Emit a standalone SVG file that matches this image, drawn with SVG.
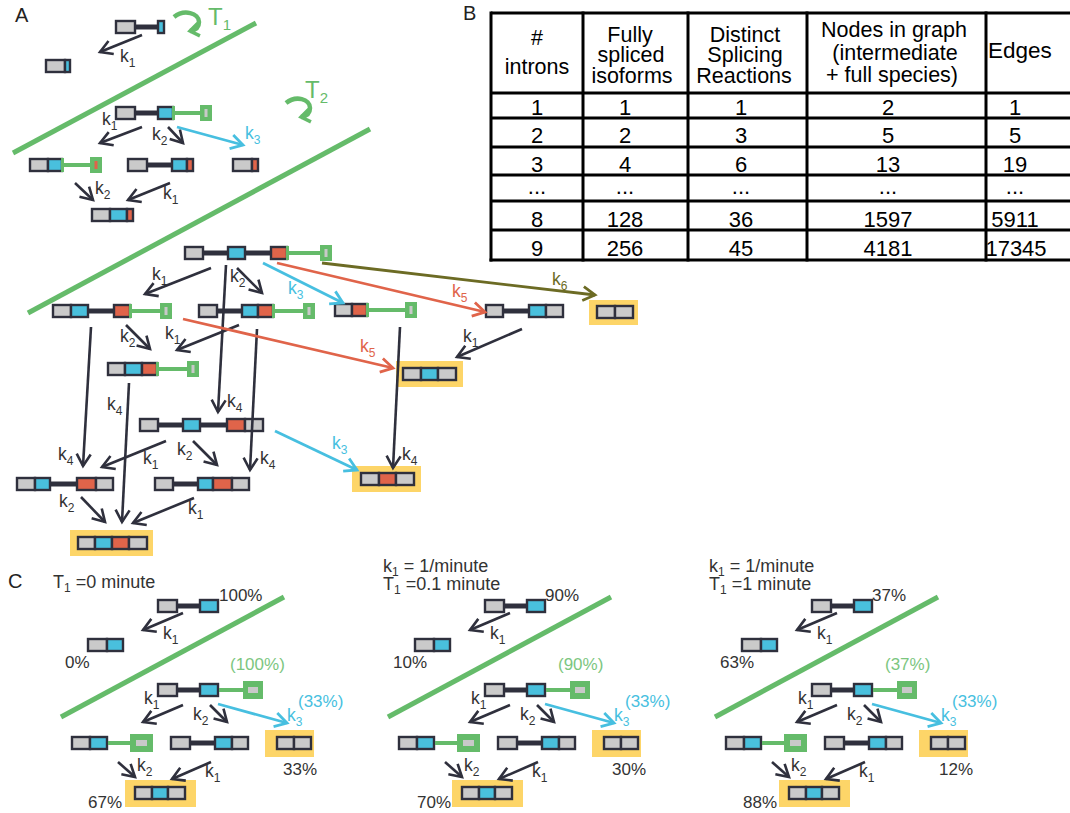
<svg xmlns="http://www.w3.org/2000/svg" width="1070" height="813" viewBox="0 0 1070 813">
<style>
text{font-family:"Liberation Sans",Arial,sans-serif}
.g{fill:#cacaca;stroke:#2f303d;stroke-width:2.4}
.b{fill:#49c0dd;stroke:#2f303d;stroke-width:2.4}
.o{fill:#e0644a;stroke:#2f303d;stroke-width:2.4}
.in{stroke:#2f303d;stroke-width:5}
.gl{stroke:#65bb6a;stroke-width:4}
.gs{fill:#65bb6a}
.gm{fill:#c9c9c9}
.om{fill:#e0644a}
.hl{fill:#fdd568}
.cd{fill:none;stroke:#2f303d;stroke-width:2.6;marker-end:url(#mD)}
.cb{fill:none;stroke:#47bfe0;stroke-width:2.8;marker-end:url(#mB)}
.co{fill:none;stroke:#e0644a;stroke-width:2.8;marker-end:url(#mO)}
.cv{fill:none;stroke:#6c6b24;stroke-width:2.8;marker-end:url(#mV)}
.cg{fill:none;stroke:#65bb6a;stroke-width:4.5;marker-end:url(#mG)}
.bd{stroke:#65bb6a;stroke-width:5}
.k{font-size:17.5px;fill:#333}
.s{font-size:12px}
.pc{font-size:17px;fill:#333}
.kb{fill:#47bfe0}
.ko{fill:#e0644a}
.kv{fill:#6c6b24}
.pg{fill:#7cc67f}
.tg{font-size:24px;fill:#65bb6a}
.tb{stroke:#000;stroke-width:3}
.th{font-size:22px;fill:#000;text-anchor:middle}
.hh{font-size:21.5px;fill:#000;text-anchor:middle}
.pl{font-size:20px;fill:#222}
.hd{font-size:18px;fill:#333}
</style>
<defs>
<marker id="mD" markerUnits="userSpaceOnUse" markerWidth="22" markerHeight="22" viewBox="-16 -11 22 22" refX="0" refY="0" orient="auto"><path d="M-12,-7 L0,0 L-12,7" fill="none" stroke="#2f303d" stroke-width="2.6"/></marker>
<marker id="mB" markerUnits="userSpaceOnUse" markerWidth="22" markerHeight="22" viewBox="-16 -11 22 22" refX="0" refY="0" orient="auto"><path d="M-12,-7 L0,0 L-12,7" fill="none" stroke="#47bfe0" stroke-width="2.8"/></marker>
<marker id="mO" markerUnits="userSpaceOnUse" markerWidth="22" markerHeight="22" viewBox="-16 -11 22 22" refX="0" refY="0" orient="auto"><path d="M-12,-7 L0,0 L-12,7" fill="none" stroke="#e0644a" stroke-width="2.8"/></marker>
<marker id="mV" markerUnits="userSpaceOnUse" markerWidth="22" markerHeight="22" viewBox="-16 -11 22 22" refX="0" refY="0" orient="auto"><path d="M-12,-7 L0,0 L-12,7" fill="none" stroke="#6c6b24" stroke-width="2.8"/></marker>
<marker id="mG" markerUnits="userSpaceOnUse" markerWidth="20" markerHeight="20" viewBox="-15 -10 20 20" refX="0" refY="0" orient="auto"><path d="M-9,-6.5 L0,0 L-9,6.5" fill="none" stroke="#65bb6a" stroke-width="3.5"/></marker>
</defs>

<!-- panel letters -->
<text class="pl" x="15" y="22">A</text>
<text class="pl" x="463" y="20">B</text>
<text class="pl" x="8" y="588">C</text>

<!-- ===== Panel A: splicing graph ===== -->
<g id="boundaries">
<line class="bd" x1="13" y1="153" x2="256" y2="23"/>
<line class="bd" x1="28" y1="313" x2="370" y2="129"/>
<path class="cg" d="M174,17 C184,9 199,13 199,22 C199,27 196,30 190,31"/>
<text class="tg" x="208" y="25">T<tspan font-size="15" dy="5">1</tspan></text>
<path class="cg" d="M286,103 C296,95 310,99 310,108 C310,113 307,116 301,117"/>
<text class="tg" x="305" y="98">T<tspan font-size="15" dy="5">2</tspan></text>
</g>

<g id="n1"><line class="in" x1="135" y1="27" x2="158" y2="27"/><rect class="g" x="116" y="21" width="19" height="12"/><rect class="b" x="158" y="21" width="6" height="12"/></g>
<g id="n2"><rect class="g" x="46" y="60" width="19" height="12"/><rect class="b" x="65" y="60" width="5" height="12"/></g>
<g id="n3"><line class="in" x1="135" y1="113" x2="158" y2="113"/><rect class="g" x="116" y="107" width="19" height="12"/><rect class="b" x="158" y="107" width="15" height="12"/><line class="gl" x1="173" y1="113" x2="200" y2="113"/><rect class="gs" x="172" y="106" width="3" height="14"/><rect class="gs" x="200" y="105" width="12" height="16"/><rect class="gm" x="204.5" y="109" width="3" height="8"/></g>
<g id="n4"><rect class="g" x="30" y="159" width="18" height="12"/><rect class="b" x="48" y="159" width="14" height="12"/><line class="gl" x1="62" y1="165" x2="90" y2="165"/><rect class="gs" x="61" y="158" width="3" height="14"/><rect class="gs" x="90" y="157" width="12" height="16"/><rect class="om" x="94.5" y="161" width="3" height="8"/></g>
<g id="n5"><line class="in" x1="147" y1="165" x2="172" y2="165"/><rect class="g" x="128" y="159" width="19" height="12"/><rect class="b" x="172" y="159" width="15" height="12"/><rect class="o" x="187" y="159" width="6" height="12"/></g>
<g id="n6"><rect class="g" x="233" y="159" width="19" height="12"/><rect class="o" x="252" y="159" width="6" height="12"/></g>
<g id="n7"><rect class="g" x="92" y="209" width="18" height="12"/><rect class="b" x="110" y="209" width="17" height="12"/><rect class="o" x="127" y="209" width="6" height="12"/></g>

<g id="n8"><line class="in" x1="203" y1="253" x2="271" y2="253"/><rect class="g" x="185" y="247" width="18" height="12"/><rect class="b" x="228" y="247" width="17" height="12"/><rect class="o" x="271" y="247" width="16" height="12"/><line class="gl" x1="287" y1="253" x2="320" y2="253"/><rect class="gs" x="286" y="246" width="3" height="14"/><rect class="gs" x="320" y="245" width="12" height="16"/><rect class="gm" x="324.5" y="249" width="3" height="8"/></g>
<g id="n9"><line class="in" x1="88" y1="311" x2="114" y2="311"/><rect class="g" x="53" y="305" width="18" height="12"/><rect class="b" x="71" y="305" width="17" height="12"/><rect class="o" x="114" y="305" width="16" height="12"/><line class="gl" x1="130" y1="311" x2="160" y2="311"/><rect class="gs" x="129" y="304" width="3" height="14"/><rect class="gs" x="160" y="303" width="12" height="16"/><rect class="gm" x="164.5" y="307" width="3" height="8"/></g>
<g id="n10"><line class="in" x1="217" y1="311" x2="242" y2="311"/><rect class="g" x="199" y="305" width="18" height="12"/><rect class="b" x="242" y="305" width="16" height="12"/><rect class="o" x="258" y="305" width="15" height="12"/><line class="gl" x1="273" y1="311" x2="303" y2="311"/><rect class="gs" x="272" y="304" width="3" height="14"/><rect class="gs" x="303" y="303" width="12" height="16"/><rect class="gm" x="307.5" y="307" width="3" height="8"/></g>
<g id="n11"><rect class="g" x="108" y="363" width="17" height="12"/><rect class="b" x="125" y="363" width="17" height="12"/><rect class="o" x="142" y="363" width="15" height="12"/><line class="gl" x1="157" y1="369" x2="187" y2="369"/><rect class="gs" x="156" y="362" width="3" height="14"/><rect class="gs" x="187" y="361" width="12" height="16"/><rect class="gm" x="191.5" y="365" width="3" height="8"/></g>
<g id="n12"><rect class="g" x="335" y="304" width="17" height="12"/><rect class="o" x="352" y="304" width="15" height="12"/><line class="gl" x1="367" y1="310" x2="405" y2="310"/><rect class="gs" x="366" y="303" width="3" height="14"/><rect class="gs" x="405" y="302" width="12" height="16"/><rect class="gm" x="409.5" y="306" width="3" height="8"/></g>
<g id="n13"><line class="in" x1="503" y1="311" x2="529" y2="311"/><rect class="g" x="486" y="305" width="17" height="12"/><rect class="b" x="529" y="305" width="17" height="12"/><rect class="g" x="546" y="305" width="17" height="12"/></g>
<g id="n14"><rect class="hl" x="589" y="300" width="49" height="25"/><rect class="g" x="597" y="306" width="18" height="12"/><rect class="g" x="615" y="306" width="18" height="12"/></g>
<g id="n15"><rect class="hl" x="396" y="361" width="67" height="26"/><rect class="g" x="403" y="368" width="18" height="12"/><rect class="b" x="421" y="368" width="17" height="12"/><rect class="g" x="438" y="368" width="18" height="12"/></g>
<g id="n16"><line class="in" x1="158" y1="425" x2="227" y2="425"/><rect class="g" x="140" y="419" width="18" height="12"/><rect class="b" x="183" y="419" width="17" height="12"/><rect class="o" x="227" y="419" width="18" height="12"/><rect class="g" x="245" y="419" width="18" height="12"/></g>
<g id="n17"><line class="in" x1="50" y1="484" x2="77" y2="484"/><rect class="g" x="17" y="478" width="18" height="12"/><rect class="b" x="35" y="478" width="15" height="12"/><rect class="o" x="77" y="478" width="19" height="12"/><rect class="g" x="96" y="478" width="17" height="12"/></g>
<g id="n18"><line class="in" x1="173" y1="484" x2="198" y2="484"/><rect class="g" x="155" y="478" width="18" height="12"/><rect class="b" x="198" y="478" width="15" height="12"/><rect class="o" x="213" y="478" width="19" height="12"/><rect class="g" x="232" y="478" width="17" height="12"/></g>
<g id="n19"><rect class="hl" x="352" y="466" width="69" height="26"/><rect class="g" x="361" y="473" width="18" height="12"/><rect class="o" x="379" y="473" width="17" height="12"/><rect class="g" x="396" y="473" width="18" height="12"/></g>
<g id="n20"><rect class="hl" x="70" y="530" width="83" height="26"/><rect class="g" x="78" y="537" width="17" height="12"/><rect class="b" x="95" y="537" width="17" height="12"/><rect class="o" x="112" y="537" width="17" height="12"/><rect class="g" x="129" y="537" width="18" height="12"/></g>

<g id="connectors">
<line class="cd" x1="142" y1="35" x2="100" y2="52"/>
<line class="cd" x1="142" y1="127" x2="100" y2="143"/>
<line class="cd" x1="168" y1="127" x2="183" y2="143"/>
<line class="cb" x1="177" y1="127" x2="243" y2="145"/>
<line class="cd" x1="75" y1="183" x2="93" y2="200"/>
<line class="cd" x1="170" y1="183" x2="128" y2="200"/>
<line class="cd" x1="211" y1="268" x2="145" y2="294"/>
<line class="cd" x1="237" y1="268" x2="262" y2="293"/>
<line class="cb" x1="263" y1="263" x2="343" y2="303"/>
<line class="co" x1="277" y1="263" x2="485" y2="312"/>
<line class="cv" x1="322" y1="263" x2="595" y2="295"/>
<line class="cd" x1="226" y1="265" x2="218" y2="412"/>
<line class="cd" x1="257" y1="329" x2="250" y2="470"/>
<line class="cd" x1="91" y1="327" x2="83" y2="466"/>
<line class="cd" x1="129" y1="383" x2="122" y2="522"/>
<line class="cd" x1="126" y1="325" x2="150" y2="349"/>
<line class="cd" x1="239" y1="325" x2="177" y2="350"/>
<line class="co" x1="183" y1="319" x2="393" y2="368"/>
<line class="cd" x1="522" y1="329" x2="457" y2="357"/>
<line class="cd" x1="400" y1="327" x2="393" y2="468"/>
<line class="cb" x1="275" y1="431" x2="357" y2="470"/>
<line class="cd" x1="166" y1="441" x2="102" y2="467"/>
<line class="cd" x1="193" y1="441" x2="217" y2="465"/>
<line class="cd" x1="81" y1="497" x2="105" y2="522"/>
<line class="cd" x1="194" y1="498" x2="133" y2="523"/>
</g>

<g id="rate-labels">
<text class="k" x="120" y="62">k<tspan class="s" dy="5">1</tspan></text>
<text class="k" x="102" y="125">k<tspan class="s" dy="5">1</tspan></text>
<text class="k" x="152" y="140">k<tspan class="s" dy="5">2</tspan></text>
<text class="k kb" x="245" y="139">k<tspan class="s" dy="5">3</tspan></text>
<text class="k" x="95" y="194">k<tspan class="s" dy="5">2</tspan></text>
<text class="k" x="163" y="199">k<tspan class="s" dy="5">1</tspan></text>
<text class="k" x="152" y="280">k<tspan class="s" dy="5">1</tspan></text>
<text class="k" x="230" y="282">k<tspan class="s" dy="5">2</tspan></text>
<text class="k kb" x="288" y="294">k<tspan class="s" dy="5">3</tspan></text>
<text class="k ko" x="452" y="297">k<tspan class="s" dy="5">5</tspan></text>
<text class="k kv" x="552" y="285">k<tspan class="s" dy="5">6</tspan></text>
<text class="k" x="227" y="407">k<tspan class="s" dy="5">4</tspan></text>
<text class="k" x="260" y="464">k<tspan class="s" dy="5">4</tspan></text>
<text class="k" x="58" y="460">k<tspan class="s" dy="5">4</tspan></text>
<text class="k" x="107" y="410">k<tspan class="s" dy="5">4</tspan></text>
<text class="k" x="120" y="342">k<tspan class="s" dy="5">2</tspan></text>
<text class="k" x="165" y="339">k<tspan class="s" dy="5">1</tspan></text>
<text class="k ko" x="360" y="352">k<tspan class="s" dy="5">5</tspan></text>
<text class="k" x="463" y="342">k<tspan class="s" dy="5">1</tspan></text>
<text class="k" x="402" y="460">k<tspan class="s" dy="5">4</tspan></text>
<text class="k kb" x="332" y="449">k<tspan class="s" dy="5">3</tspan></text>
<text class="k" x="143" y="464">k<tspan class="s" dy="5">1</tspan></text>
<text class="k" x="177" y="455">k<tspan class="s" dy="5">2</tspan></text>
<text class="k" x="59" y="507">k<tspan class="s" dy="5">2</tspan></text>
<text class="k" x="188" y="514">k<tspan class="s" dy="5">1</tspan></text>
</g>

<!-- ===== Panel B: graph size table ===== -->
<g id="table">
<line class="tb" x1="491" y1="13" x2="1070" y2="13"/>
<line class="tb" x1="491" y1="93" x2="1070" y2="93"/>
<line class="tb" x1="491" y1="118" x2="1070" y2="118"/>
<line class="tb" x1="491" y1="147" x2="1070" y2="147"/>
<line class="tb" x1="491" y1="175" x2="1070" y2="175"/>
<line class="tb" x1="491" y1="201" x2="1070" y2="201"/>
<line class="tb" x1="491" y1="230" x2="1070" y2="230"/>
<line class="tb" x1="489.5" y1="260" x2="1070" y2="260"/>
<line class="tb" x1="491" y1="11.5" x2="491" y2="261.5"/>
<line class="tb" x1="583" y1="11.5" x2="583" y2="261.5"/>
<line class="tb" x1="688" y1="11.5" x2="688" y2="261.5"/>
<line class="tb" x1="807" y1="11.5" x2="807" y2="261.5"/>
<line class="tb" x1="986" y1="11.5" x2="986" y2="261.5"/>
<text class="hh" x="537" y="45">#</text>
<text class="hh" x="537" y="74">introns</text>
<text class="hh" x="630" y="42">Fully</text>
<text class="hh" x="631" y="62">spliced</text>
<text class="hh" x="632" y="83">isoforms</text>
<text class="hh" x="745" y="42">Distinct</text>
<text class="hh" x="745" y="62">Splicing</text>
<text class="hh" x="744" y="83">Reactions</text>
<text class="hh" x="894" y="37">Nodes in graph</text>
<text class="hh" x="895" y="60">(intermediate</text>
<text class="hh" x="892" y="82">+ full species)</text>
<text class="hh" x="988" y="58" style="text-anchor:start;font-size:22.5px">Edges</text>
<text class="th" x="537" y="115">1</text><text class="th" x="625" y="115">1</text><text class="th" x="741" y="115">1</text><text class="th" x="888" y="115">2</text><text class="th" x="1015" y="115">1</text>
<text class="th" x="537" y="143">2</text><text class="th" x="625" y="143">2</text><text class="th" x="741" y="143">3</text><text class="th" x="888" y="143">5</text><text class="th" x="1015" y="143">5</text>
<text class="th" x="537" y="172">3</text><text class="th" x="625" y="172">4</text><text class="th" x="741" y="172">6</text><text class="th" x="888" y="172">13</text><text class="th" x="1015" y="172">19</text>
<text class="th" x="537" y="194">...</text><text class="th" x="625" y="194">...</text><text class="th" x="741" y="194">...</text><text class="th" x="888" y="194">...</text><text class="th" x="1015" y="194">...</text>
<text class="th" x="537" y="227">8</text><text class="th" x="625" y="227">128</text><text class="th" x="741" y="227">36</text><text class="th" x="888" y="227">1597</text><text class="th" x="1015" y="227">5911</text>
<text class="th" x="537" y="256">9</text><text class="th" x="625" y="256">256</text><text class="th" x="741" y="256">45</text><text class="th" x="888" y="256">4181</text><text class="th" x="1016" y="256">17345</text>
</g>

<!-- ===== Panel C: time-dependent outcomes ===== -->
<text class="hd" x="53" y="588">T<tspan font-size="12" dy="4">1</tspan><tspan dy="-4"> =0 minute</tspan></text>
<text class="hd" x="383" y="572">k<tspan font-size="12" dy="4">1</tspan><tspan dy="-4"> = 1/minute</tspan></text>
<text class="hd" x="383" y="590">T<tspan font-size="12" dy="4">1</tspan><tspan dy="-4"> =0.1 minute</tspan></text>
<text class="hd" x="709" y="572">k<tspan font-size="12" dy="4">1</tspan><tspan dy="-4"> = 1/minute</tspan></text>
<text class="hd" x="709" y="590">T<tspan font-size="12" dy="4">1</tspan><tspan dy="-4"> =1 minute</tspan></text>

<g id="panel-c1">
<line class="bd" x1="61" y1="717" x2="284" y2="597"/>
<g id="c1-n1"><line class="in" x1="177" y1="606" x2="200" y2="606"/><rect class="g" x="158" y="600" width="19" height="12"/><rect class="b" x="200" y="600" width="18" height="12"/></g>
<g id="c1-n2"><rect class="g" x="88" y="639" width="19" height="12"/><rect class="b" x="107" y="639" width="16" height="12"/></g>
<g id="c1-n3"><line class="in" x1="177" y1="690" x2="200" y2="690"/><rect class="g" x="158" y="684" width="19" height="12"/><rect class="b" x="200" y="684" width="18" height="12"/><line class="gl" x1="219" y1="690" x2="243" y2="690"/><rect class="gs" x="243" y="681" width="20" height="18"/><rect class="gm" x="248" y="687" width="10" height="6"/></g>
<g id="c1-n4"><rect class="g" x="72" y="737" width="18" height="12"/><rect class="b" x="90" y="737" width="17" height="12"/><line class="gl" x1="108" y1="743" x2="130" y2="743"/><rect class="gs" x="130" y="734" width="23" height="18"/><rect class="gm" x="136" y="740" width="11" height="6"/></g>
<g id="c1-n5"><line class="in" x1="190" y1="743" x2="215" y2="743"/><rect class="g" x="171" y="737" width="19" height="12"/><rect class="b" x="215" y="737" width="17" height="12"/><rect class="g" x="232" y="737" width="16" height="12"/></g>
<g id="c1-n6"><rect class="hl" x="265" y="730" width="49" height="27"/><rect class="g" x="277" y="737" width="17" height="12"/><rect class="g" x="294" y="737" width="17" height="12"/></g>
<g id="c1-n7"><rect class="hl" x="125" y="780" width="71" height="27"/><rect class="g" x="135" y="787" width="17" height="12"/><rect class="b" x="152" y="787" width="16" height="12"/><rect class="g" x="168" y="787" width="17" height="12"/></g>
<g id="c1-connectors">
<line class="cd" x1="183" y1="613" x2="143" y2="630"/>
<line class="cd" x1="183" y1="705" x2="143" y2="722"/>
<line class="cd" x1="210" y1="705" x2="227" y2="722"/>
<line class="cb" x1="218" y1="704" x2="287" y2="723"/>
<line class="cd" x1="118" y1="762" x2="135" y2="777"/>
<line class="cd" x1="211" y1="762" x2="172" y2="779"/>
</g>
<text class="k" x="163" y="639">k<tspan class="s" dy="5">1</tspan></text>
<text class="k" x="144" y="704">k<tspan class="s" dy="5">1</tspan></text>
<text class="k" x="193" y="720">k<tspan class="s" dy="5">2</tspan></text>
<text class="k kb" x="287" y="721">k<tspan class="s" dy="5">3</tspan></text>
<text class="k" x="137" y="771">k<tspan class="s" dy="5">2</tspan></text>
<text class="k" x="205" y="777">k<tspan class="s" dy="5">1</tspan></text>
<text class="pc kb" x="298" y="707">(33%)</text>
<text class="pc" x="219" y="601">100%</text>
<text class="pc" x="65" y="668">0%</text>
<text class="pc pg" x="230" y="670">(100%)</text>
<text class="pc" x="283" y="775">33%</text>
<text class="pc" x="88" y="808">67%</text>
</g>

<g id="panel-c2" transform="translate(327,0)">
<line class="bd" x1="61" y1="717" x2="284" y2="597"/>
<g id="c2-n1"><line class="in" x1="177" y1="606" x2="200" y2="606"/><rect class="g" x="158" y="600" width="19" height="12"/><rect class="b" x="200" y="600" width="18" height="12"/></g>
<g id="c2-n2"><rect class="g" x="88" y="639" width="19" height="12"/><rect class="b" x="107" y="639" width="16" height="12"/></g>
<g id="c2-n3"><line class="in" x1="177" y1="690" x2="200" y2="690"/><rect class="g" x="158" y="684" width="19" height="12"/><rect class="b" x="200" y="684" width="18" height="12"/><line class="gl" x1="219" y1="690" x2="243" y2="690"/><rect class="gs" x="243" y="681" width="20" height="18"/><rect class="gm" x="248" y="687" width="10" height="6"/></g>
<g id="c2-n4"><rect class="g" x="72" y="737" width="18" height="12"/><rect class="b" x="90" y="737" width="17" height="12"/><line class="gl" x1="108" y1="743" x2="130" y2="743"/><rect class="gs" x="130" y="734" width="23" height="18"/><rect class="gm" x="136" y="740" width="11" height="6"/></g>
<g id="c2-n5"><line class="in" x1="190" y1="743" x2="215" y2="743"/><rect class="g" x="171" y="737" width="19" height="12"/><rect class="b" x="215" y="737" width="17" height="12"/><rect class="g" x="232" y="737" width="16" height="12"/></g>
<g id="c2-n6"><rect class="hl" x="265" y="730" width="49" height="27"/><rect class="g" x="277" y="737" width="17" height="12"/><rect class="g" x="294" y="737" width="17" height="12"/></g>
<g id="c2-n7"><rect class="hl" x="125" y="780" width="71" height="27"/><rect class="g" x="135" y="787" width="17" height="12"/><rect class="b" x="152" y="787" width="16" height="12"/><rect class="g" x="168" y="787" width="17" height="12"/></g>
<g id="c2-connectors">
<line class="cd" x1="183" y1="613" x2="143" y2="630"/>
<line class="cd" x1="183" y1="705" x2="143" y2="722"/>
<line class="cd" x1="210" y1="705" x2="227" y2="722"/>
<line class="cb" x1="218" y1="704" x2="287" y2="723"/>
<line class="cd" x1="118" y1="762" x2="135" y2="777"/>
<line class="cd" x1="211" y1="762" x2="172" y2="779"/>
</g>
<text class="k" x="163" y="639">k<tspan class="s" dy="5">1</tspan></text>
<text class="k" x="144" y="704">k<tspan class="s" dy="5">1</tspan></text>
<text class="k" x="193" y="720">k<tspan class="s" dy="5">2</tspan></text>
<text class="k kb" x="287" y="721">k<tspan class="s" dy="5">3</tspan></text>
<text class="k" x="137" y="771">k<tspan class="s" dy="5">2</tspan></text>
<text class="k" x="205" y="777">k<tspan class="s" dy="5">1</tspan></text>
<text class="pc kb" x="298" y="707">(33%)</text>
<text class="pc" x="218" y="601">90%</text>
<text class="pc" x="66" y="668">10%</text>
<text class="pc pg" x="231" y="670">(90%)</text>
<text class="pc" x="285" y="775">30%</text>
<text class="pc" x="90" y="808">70%</text>
</g>

<g id="panel-c3" transform="translate(654,0)">
<line class="bd" x1="61" y1="717" x2="284" y2="597"/>
<g id="c3-n1"><line class="in" x1="177" y1="606" x2="200" y2="606"/><rect class="g" x="158" y="600" width="19" height="12"/><rect class="b" x="200" y="600" width="18" height="12"/></g>
<g id="c3-n2"><rect class="g" x="88" y="639" width="19" height="12"/><rect class="b" x="107" y="639" width="16" height="12"/></g>
<g id="c3-n3"><line class="in" x1="177" y1="690" x2="200" y2="690"/><rect class="g" x="158" y="684" width="19" height="12"/><rect class="b" x="200" y="684" width="18" height="12"/><line class="gl" x1="219" y1="690" x2="243" y2="690"/><rect class="gs" x="243" y="681" width="20" height="18"/><rect class="gm" x="248" y="687" width="10" height="6"/></g>
<g id="c3-n4"><rect class="g" x="72" y="737" width="18" height="12"/><rect class="b" x="90" y="737" width="17" height="12"/><line class="gl" x1="108" y1="743" x2="130" y2="743"/><rect class="gs" x="130" y="734" width="23" height="18"/><rect class="gm" x="136" y="740" width="11" height="6"/></g>
<g id="c3-n5"><line class="in" x1="190" y1="743" x2="215" y2="743"/><rect class="g" x="171" y="737" width="19" height="12"/><rect class="b" x="215" y="737" width="17" height="12"/><rect class="g" x="232" y="737" width="16" height="12"/></g>
<g id="c3-n6"><rect class="hl" x="265" y="730" width="49" height="27"/><rect class="g" x="277" y="737" width="17" height="12"/><rect class="g" x="294" y="737" width="17" height="12"/></g>
<g id="c3-n7"><rect class="hl" x="125" y="780" width="71" height="27"/><rect class="g" x="135" y="787" width="17" height="12"/><rect class="b" x="152" y="787" width="16" height="12"/><rect class="g" x="168" y="787" width="17" height="12"/></g>
<g id="c3-connectors">
<line class="cd" x1="183" y1="613" x2="143" y2="630"/>
<line class="cd" x1="183" y1="705" x2="143" y2="722"/>
<line class="cd" x1="210" y1="705" x2="227" y2="722"/>
<line class="cb" x1="218" y1="704" x2="287" y2="723"/>
<line class="cd" x1="118" y1="762" x2="135" y2="777"/>
<line class="cd" x1="211" y1="762" x2="172" y2="779"/>
</g>
<text class="k" x="163" y="639">k<tspan class="s" dy="5">1</tspan></text>
<text class="k" x="144" y="704">k<tspan class="s" dy="5">1</tspan></text>
<text class="k" x="193" y="720">k<tspan class="s" dy="5">2</tspan></text>
<text class="k kb" x="287" y="721">k<tspan class="s" dy="5">3</tspan></text>
<text class="k" x="137" y="771">k<tspan class="s" dy="5">2</tspan></text>
<text class="k" x="205" y="777">k<tspan class="s" dy="5">1</tspan></text>
<text class="pc kb" x="298" y="707">(33%)</text>
<text class="pc" x="218" y="601">37%</text>
<text class="pc" x="66" y="668">63%</text>
<text class="pc pg" x="231" y="670">(37%)</text>
<text class="pc" x="285" y="775">12%</text>
<text class="pc" x="89" y="808">88%</text>
</g>
</svg>
